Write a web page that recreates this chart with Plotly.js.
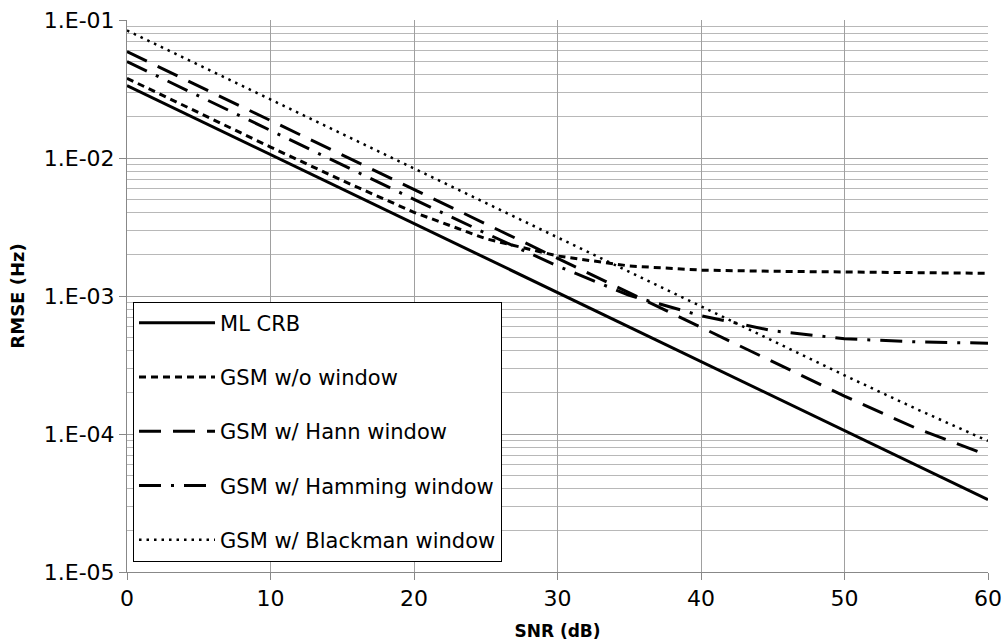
<!DOCTYPE html>
<html>
<head>
<meta charset="utf-8">
<script src="https://cdn.plot.ly/plotly-3.0.1.min.js"></script>
<style>html,body{margin:0;padding:0;background:#fff;}</style>
</head>
<body>
<div id="chart" style="width:1003px;height:644px;"></div>
<script>
// SNR (dB)
const snr = [0, 5, 10, 15, 20, 25, 30, 35, 40, 45, 50, 55, 60];
// RMSE (Hz) per series
const mlCrb     = [0.0335, 0.01884, 0.01059, 0.005957, 0.00335, 0.001884, 0.001059, 0.0005957, 0.000335, 0.0001884, 0.0001059, 0.00005957, 0.0000335];
const gsmNoWin  = [0.0378, 0.0213, 0.0120, 0.00687, 0.00404, 0.0026, 0.00195, 0.00165, 0.00154, 0.00151, 0.00149, 0.00147, 0.00146];
const gsmHann   = [0.059, 0.0332, 0.0187, 0.0105, 0.0059, 0.00332, 0.00187, 0.00105, 0.00059, 0.000332, 0.000188, 0.00011, 0.00007];
const gsmHamming= [0.050, 0.0281, 0.0158, 0.0089, 0.00502, 0.00285, 0.00165, 0.00101, 0.00072, 0.00056, 0.00049, 0.000465, 0.000455];
const gsmBlack  = [0.084, 0.0472, 0.0266, 0.0149, 0.0084, 0.00472, 0.00266, 0.00149, 0.00084, 0.000472, 0.000266, 0.000152, 0.000089];

const seriesNames = ["ML CRB", "GSM w/o window", "GSM w/ Hann window", "GSM w/ Hamming window", "GSM w/ Blackman window"];
const yTickVals = [1e-5, 1e-4, 1e-3, 1e-2, 1e-1];
const yTickText = ["1.E-05", "1.E-04", "1.E-03", "1.E-02", "1.E-01"];
const xTickVals = [0, 10, 20, 30, 40, 50, 60];

const minorVals = [];
for (let e = -5; e < -1; e++) for (let m = 2; m <= 9; m++) minorVals.push(m * Math.pow(10, e));

const styles = [
  {dash: "solid", width: 3},
  {dash: "7px,5px", width: 3},
  {dash: "22px,12px", width: 3},
  {dash: "22px,10px,3px,10px", width: 3},
  {dash: "2.5px,5px", width: 2.5}
];
const ys = [mlCrb, gsmNoWin, gsmHann, gsmHamming, gsmBlack];
const traces = ys.map((y, i) => ({
  x: snr, y: y, type: "scatter", mode: "lines", name: seriesNames[i],
  legendgroup: "g" + i,
  line: {color: "#000", width: styles[i].width, dash: styles[i].dash}
}));

const font = "DejaVu Sans, Open Sans, sans-serif";
const layout = {
  width: 1003, height: 644,
  margin: {l: 127, r: 15, t: 20, b: 72},
  paper_bgcolor: "#fff", plot_bgcolor: "#fff",
  showlegend: true,
  legend: {
    x: 0.007, y: 0.49, xanchor: "left", yanchor: "top",
    bgcolor: "#fff", bordercolor: "#000", borderwidth: 1,
    font: {family: font, size: 21, color: "#000"},
    tracegroupgap: 24, itemwidth: 76
  },
  xaxis: {
    range: [0, 60], tickvals: xTickVals, ticks: "outside", ticklen: 7, tickcolor: "#888",
    showgrid: true, gridcolor: "#a0a0a0", gridwidth: 1,
    showline: true, linecolor: "#888", zeroline: false,
    tickfont: {family: font, size: 22, color: "#000"},
    title: {text: "<b>SNR (dB)</b>", font: {family: font, size: 17, color: "#000"}, standoff: 14}
  },
  yaxis: {
    type: "log", range: [-5, -1], tickmode: "array", tickvals: yTickVals, ticktext: yTickText,
    ticks: "outside", ticklen: 7, tickcolor: "#888",
    showgrid: true, gridcolor: "#a0a0a0", gridwidth: 1,
    showline: true, linecolor: "#888", zeroline: false,
    tickfont: {family: font, size: 22, color: "#000"},
    minor: {tickmode: "array", tickvals: minorVals, showgrid: true, gridcolor: "#b8b8b8", gridwidth: 1, ticks: ""},
    title: {text: "<b>RMSE (Hz)</b>", font: {family: font, size: 18, color: "#000"}, standoff: 14}
  }
};
Plotly.newPlot("chart", traces, layout, {displayModeBar: false, staticPlot: true});
</script>
</body>
</html>
